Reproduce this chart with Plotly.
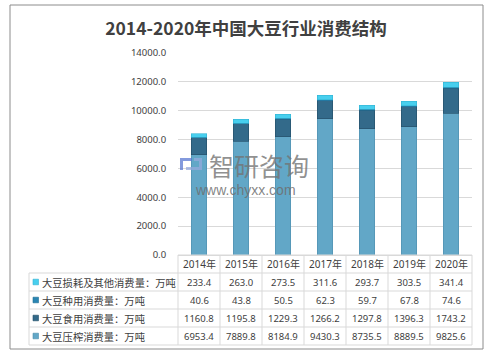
import plotly.graph_objects as go

years = ["2014年", "2015年", "2016年", "2017年", "2018年", "2019年", "2020年"]
yaxis_ticks = [0, 2000, 4000, 6000, 8000, 10000, 12000, 14000]

series_names = [
    "大豆压榨消费量：万吨",
    "大豆食用消费量：万吨",
    "大豆种用消费量：万吨",
    "大豆损耗及其他消费量：万吨",
]
yazha = [6953.4, 7889.8, 8184.9, 9430.3, 8735.5, 8889.5, 9825.6]
shiyong = [1160.8, 1195.8, 1229.3, 1266.2, 1297.8, 1396.3, 1743.2]
zhongyong = [40.6, 43.8, 50.5, 62.3, 59.7, 67.8, 74.6]
sunhao = [233.4, 263.0, 273.5, 311.6, 293.7, 303.5, 341.4]

series_values = [yazha, shiyong, zhongyong, sunhao]
colors = ["#62A7C7", "#336A8A", "#2A86B3", "#48CFEE"]
line_colors = ["#4E8EAD", "#244F68", "#1F6F96", "#34B4D4"]

W, H = 492, 356
L, R, T, B = 178, 20, 53, 101
PW, PH = W - L - R, H - T - B

def px(x):
    return (x - L) / PW

def py(y):
    return (H - B - y) / PH

fig = go.Figure()
for name, vals, c, lc in zip(series_names, series_values, colors, line_colors):
    fig.add_trace(go.Bar(
        x=years, y=vals, name=name,
        marker=dict(color=c, line=dict(color=lc, width=0.6)),
        showlegend=False,
    ))

shapes = []
annotations = []
grid = "#D9D9D9"
txt = "#404040"
n = len(years)

row_h = 18
year_top = H - B
rows_top = [year_top + row_h * i for i in range(6)]
leg_left = 29

shapes.append(dict(type="line", xref="paper", yref="paper", x0=0, x1=1,
                   y0=py(rows_top[0]), y1=py(rows_top[0]), line=dict(color=grid, width=1)))
for yy in rows_top[1:]:
    shapes.append(dict(type="line", xref="paper", yref="paper", x0=px(leg_left), x1=1,
                       y0=py(yy), y1=py(yy), line=dict(color=grid, width=1)))
for i in range(n + 1):
    xx = i / n
    shapes.append(dict(type="line", xref="paper", yref="paper", x0=xx, x1=xx,
                       y0=py(rows_top[0]), y1=py(rows_top[-1]), line=dict(color=grid, width=1)))
shapes.append(dict(type="line", xref="paper", yref="paper", x0=px(leg_left), x1=px(leg_left),
                   y0=py(rows_top[1]), y1=py(rows_top[-1]), line=dict(color=grid, width=1)))

for i, yr in enumerate(years):
    annotations.append(dict(xref="paper", yref="paper", x=(i + 0.5) / n,
                            y=py(rows_top[0] + row_h / 2), text=yr, showarrow=False,
                            font=dict(size=10, color=txt), xanchor="center", yanchor="middle"))

table_order = [3, 2, 1, 0]
for r, si in enumerate(table_order):
    yc = rows_top[1 + r] + row_h / 2
    shapes.append(dict(type="rect", xref="paper", yref="paper",
                       x0=px(33), x1=px(38.5), y0=py(yc - 2.8), y1=py(yc + 2.8),
                       fillcolor=colors[si], line=dict(color=line_colors[si], width=0.6)))
    annotations.append(dict(xref="paper", yref="paper", x=px(39.5), y=py(yc),
                            text=series_names[si], showarrow=False, xanchor="left",
                            yanchor="middle", font=dict(size=10.3, color=txt,
                            family="Noto Sans CJK SC")))
    for i, v in enumerate(series_values[si]):
        annotations.append(dict(xref="paper", yref="paper", x=(i + 0.5) / n, y=py(yc),
                                text=f"{v:.1f}", showarrow=False, xanchor="center",
                                yanchor="middle", font=dict(size=9.5, color=txt)))

shapes.append(dict(type="rect", xref="paper", yref="paper", x0=px(10), x1=px(483),
                   y0=py(349), y1=py(5), line=dict(color="#8C8C8C", width=1),
                   fillcolor="rgba(0,0,0,0)"))

shapes.append(dict(type="path", xref="paper", yref="paper",
                   path=(f"M {px(180)},{py(158)} L {px(192)},{py(158)} L {px(192)},{py(161)} "
                         f"L {px(183)},{py(161)} L {px(183)},{py(170)} L {px(180)},{py(170)} Z"),
                   fillcolor="rgba(90,120,210,0.75)", line=dict(width=0)))
shapes.append(dict(type="path", xref="paper", yref="paper",
                   path=(f"M {px(194)},{py(158)} L {px(202)},{py(158)} L {px(202)},{py(170)} "
                         f"L {px(186)},{py(170)} L {px(186)},{py(167)} L {px(199)},{py(167)} "
                         f"L {px(199)},{py(161)} L {px(194)},{py(161)} Z"),
                   fillcolor="rgba(150,170,220,0.75)", line=dict(width=0)))
annotations.append(dict(xref="paper", yref="paper", x=px(259), y=py(165), text="智研咨询",
                        showarrow=False, xanchor="center", yanchor="middle",
                        font=dict(size=25, color="rgba(115,115,115,0.8)",
                                  family="Noto Sans CJK SC")))
annotations.append(dict(xref="paper", yref="paper", x=px(245), y=py(190), text="www.chyxx.com",
                        showarrow=False, xanchor="center", yanchor="middle",
                        font=dict(size=14, color="rgba(110,110,110,0.85)",
                                  family="Liberation Sans")))

fig.update_layout(
    width=W, height=H,
    margin=dict(l=L, r=R, t=T, b=B),
    paper_bgcolor="white", plot_bgcolor="white",
    barmode="stack", bargap=0.62,
    font=dict(family="Noto Sans, Noto Sans CJK SC", color=txt),
    title=dict(text="<b>2014-2020年中国大豆行业消费结构</b>", x=0.5, xanchor="center",
               y=1 - 29 / H, yanchor="middle",
               font=dict(size=17.5, color=txt, family="Noto Sans CJK SC")),
    xaxis=dict(showticklabels=False, showgrid=False, zeroline=False, showline=True,
               linecolor=grid, ticks=""),
    yaxis=dict(range=[0, 14000], tickvals=yaxis_ticks, tickformat=".1f",
               showgrid=True, gridcolor=grid, gridwidth=1, zeroline=False, showline=False,
               ticks="outside", ticklen=9, tickcolor="rgba(0,0,0,0)",
               tickfont=dict(size=9.5, color=txt)),
    shapes=shapes, annotations=annotations,
)

fig.write_html("out.html", config={"displayModeBar": False},
               post_script="document.body.style.margin='0';document.body.style.overflow='hidden';")
